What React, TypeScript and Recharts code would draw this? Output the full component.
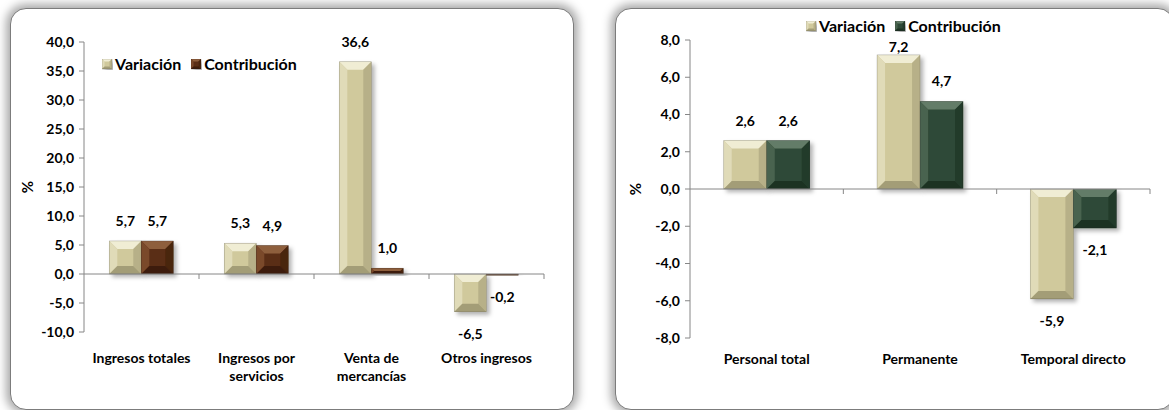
import React from 'react'
import { BarChart, Bar, XAxis, YAxis, ReferenceLine, LabelList, Legend } from 'recharts'

// ingresos
const incomeCats = ['Ingresos totales', 'Ingresos por servicios', 'Venta de mercancías', 'Otros ingresos']
const incomeVar = [5.7, 5.3, 36.6, -6.5]
const incomeContrib = [5.7, 4.9, 1.0, -0.2]
const incomeTicks = [-10, -5, 0, 5, 10, 15, 20, 25, 30, 35, 40]

// personal
const staffCats = ['Personal total', 'Permanente', 'Temporal directo']
const staffVar = [2.6, 7.2, -5.9]
const staffContrib = [2.6, 4.7, -2.1]
const staffTicks = [-8, -6, -4, -2, 0, 2, 4, 6, 8]

const FONT = 'Lato, "Open Sans", sans-serif'
const AXIS = '#868686'

const khaki = { face: '#d0c99c', top: '#f0edd4', left: '#e0dbb8', right: '#b7b088', bottom: '#a39d77' }
const brown = { face: '#5a2f16', top: '#8e5e3e', left: '#7a482b', right: '#4a2510', bottom: '#3e1e0c' }
const green = { face: '#2f4a37', top: '#647c68', left: '#4a6350', right: '#243a2b', bottom: '#1d3123' }

const fmt = (v: number) => v.toFixed(1).replace('.', ',')

function BevelBar(props: any) {
  const { x, y, width, height, pal } = props
  const top = Math.min(y, y + height)
  const h = Math.abs(height)
  if (!h || !width) return null
  const b = Math.min(8, width / 4, h / 2)
  const x2 = x + width
  const y2 = top + h
  return (
    <g filter="url(#barShadow)">
      <rect x={x} y={top} width={width} height={h} fill={pal.face} />
      <polygon points={`${x},${top} ${x2},${top} ${x2 - b},${top + b} ${x + b},${top + b}`} fill={pal.top} />
      <polygon points={`${x},${top} ${x + b},${top + b} ${x + b},${y2 - b} ${x},${y2}`} fill={pal.left} />
      <polygon points={`${x2},${top} ${x2},${y2} ${x2 - b},${y2 - b} ${x2 - b},${top + b}`} fill={pal.right} />
      <polygon points={`${x},${y2} ${x + b},${y2 - b} ${x2 - b},${y2 - b} ${x2},${y2}`} fill={pal.bottom} />
      <rect x={x} y={top} width={width} height={h} fill="none" stroke="rgba(0,0,0,0.25)" strokeWidth={0.6} />
    </g>
  )
}

const valueLabel = (minY: number) => (p: any) => {
  const { x, y, width, height, value } = p
  const top = Math.min(y, y + height)
  const bottom = Math.max(y, y + height)
  const cy = value >= 0 ? Math.max(top - 20, minY) : bottom + 22
  return (
    <text x={x + width / 2} y={cy} dy={5} textAnchor="middle" fontFamily={FONT} fontWeight={700} fontSize={14} fill="#000">
      {fmt(value)}
    </text>
  )
}

function wrap(label: string, max = 16) {
  const lines: string[] = []
  let cur = ''
  label.split(' ').forEach((w) => {
    const next = cur ? cur + ' ' + w : w
    if (next.length > max && cur) {
      lines.push(cur)
      cur = w
    } else cur = next
  })
  if (cur) lines.push(cur)
  return lines
}

const CatTick = (first: number) => (p: any) => {
  const { x, y, payload } = p
  return (
    <text x={x} y={y} textAnchor="middle" fontFamily={FONT} fontWeight={700} fontSize={14} fill="#000">
      {wrap(payload.value).map((l, i) => (
        <tspan key={i} x={x} dy={i === 0 ? first : 18}>{l}</tspan>
      ))}
    </text>
  )
}

// zero line with tick marks between categories
const zeroAxis = (n: number) => (p: any) => {
  const { x1, y1, x2 } = p
  const step = (x2 - x1) / n
  const marks = []
  for (let k = 1; k <= n; k++) marks.push(x1 + step * k)
  return (
    <g>
      <line x1={x1} y1={y1} x2={x2} y2={y1} stroke={AXIS} strokeWidth={1} />
      {marks.map((mx, i) => (
        <line key={i} x1={mx} y1={y1} x2={mx} y2={y1 + 5} stroke={AXIS} strokeWidth={1} />
      ))}
    </g>
  )
}

const pctLabel = (px: number) => (p: any) => {
  const { viewBox } = p
  const cy = viewBox.y + viewBox.height / 2
  return (
    <text x={px} y={cy} transform={`rotate(-90 ${px} ${cy})`} textAnchor="middle" dy={5} fontFamily={FONT} fontWeight={700} fontSize={15} fill="#000">
      %
    </text>
  )
}

const LegendBox = (pal2: any) => () => (
  <div style={{ display: 'flex', alignItems: 'center', fontFamily: FONT, fontWeight: 700, fontSize: 16, color: '#000', whiteSpace: 'nowrap', lineHeight: '20px' }}>
    <svg width={11} height={11} style={{ marginRight: 2 }}><BevelBar x={0} y={0} width={10} height={10} pal={khaki} /></svg>
    <span style={{ marginRight: 10 }}>Variación</span>
    <svg width={11} height={11} style={{ marginRight: 2 }}><BevelBar x={0} y={0} width={10} height={10} pal={pal2} /></svg>
    <span>Contribución</span>
  </div>
)

const tickStyle = { fill: '#000', fontSize: 14, fontWeight: 700, fontFamily: FONT }

const incomeData = incomeCats.map((c, i) => ({ name: c, variacion: incomeVar[i], contribucion: incomeContrib[i] }))
const staffData = staffCats.map((c, i) => ({ name: c, variacion: staffVar[i], contribucion: staffContrib[i] }))

const panel: React.CSSProperties = {
  position: 'absolute',
  top: 8,
  height: 400,
  background: '#fff',
  border: '1px solid #7c7c7c',
  borderRadius: 16,
  boxShadow: '0 0 10px 4px #a8a8a8',
}

export default function App() {
  return (
    <div style={{ position: 'fixed', left: 0, top: 0, width: 1169, height: 410, overflow: 'hidden', background: '#fff' }}>
      <svg width={0} height={0} style={{ position: 'absolute' }}>
        <defs>
          <filter id="barShadow" x="-30%" y="-30%" width="160%" height="160%">
            <feDropShadow dx={3} dy={3} stdDeviation={2} floodColor="#000" floodOpacity={0.3} />
          </filter>
        </defs>
      </svg>
      <div style={{ ...panel, left: 10, width: 562 }} />
      <div style={{ ...panel, left: 615, width: 557 }} />

      <div style={{ position: 'absolute', left: 0, top: 0 }}>
        <BarChart width={580} height={410} data={incomeData} margin={{ top: 42, right: 36, bottom: 28, left: 0 }} barCategoryGap="22%" barGap={0}>
          <XAxis dataKey="name" axisLine={false} tickLine={false} tickSize={0} tickMargin={0} height={50} interval={0} tick={CatTick(31)} />
          <YAxis domain={[-10, 40]} ticks={incomeTicks} width={84} stroke={AXIS} tickSize={5} tickMargin={5} tick={tickStyle} tickFormatter={fmt} label={{ content: pctLabel(28) }} />
          <ReferenceLine y={0} shape={zeroAxis(incomeCats.length)} />
          <Legend verticalAlign="middle" align="center" wrapperStyle={{ top: 54, left: 102, width: 'auto' }} content={LegendBox(brown)} />
          <Bar dataKey="variacion" name="Variación" fill={khaki.face} isAnimationActive={false} shape={(p: any) => <BevelBar {...p} pal={khaki} />}>
            <LabelList dataKey="variacion" content={valueLabel(0)} />
          </Bar>
          <Bar dataKey="contribucion" name="Contribución" fill={brown.face} isAnimationActive={false} shape={(p: any) => <BevelBar {...p} pal={brown} />}>
            <LabelList dataKey="contribucion" content={valueLabel(0)} />
          </Bar>
        </BarChart>
      </div>

      <div style={{ position: 'absolute', left: 590, top: 0 }}>
        <BarChart width={579} height={410} data={staffData} margin={{ top: 40, right: 19, bottom: 22, left: 0 }} barCategoryGap="22%" barGap={0}>
          <XAxis dataKey="name" axisLine={false} tickLine={false} tickSize={0} tickMargin={0} height={50} interval={0} tick={CatTick(26)} />
          <YAxis domain={[-8, 8]} ticks={staffTicks} width={100} stroke={AXIS} tickSize={5} tickMargin={5} tick={tickStyle} tickFormatter={fmt} label={{ content: pctLabel(46) }} />
          <ReferenceLine y={0} shape={zeroAxis(staffCats.length)} />
          <Legend verticalAlign="middle" align="center" wrapperStyle={{ top: 16, left: 216, width: 'auto' }} content={LegendBox(green)} />
          <Bar dataKey="variacion" name="Variación" fill={khaki.face} isAnimationActive={false} shape={(p: any) => <BevelBar {...p} pal={khaki} />}>
            <LabelList dataKey="variacion" content={valueLabel(47)} />
          </Bar>
          <Bar dataKey="contribucion" name="Contribución" fill={green.face} isAnimationActive={false} shape={(p: any) => <BevelBar {...p} pal={green} />}>
            <LabelList dataKey="contribucion" content={valueLabel(47)} />
          </Bar>
        </BarChart>
      </div>
    </div>
  )
}
